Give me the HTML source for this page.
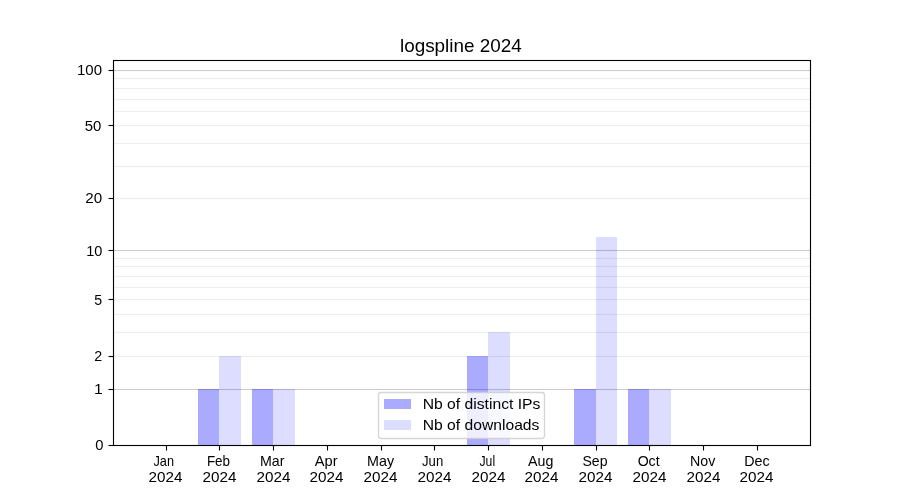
<!DOCTYPE html>
<html lang="en">
<head>
<meta charset="utf-8">
<title>logspline 2024</title>
<style>
html,body{margin:0;padding:0;background:#fff;}
body{width:900px;height:500px;overflow:hidden;font-family:"Liberation Sans",sans-serif;}
svg{display:block;will-change:transform;}
svg text{font-family:"Liberation Sans",sans-serif;fill:#000;}
.fr{stroke:#000;stroke-width:1.111;fill:none;}
.gM{fill:#ccc;}
.gm{fill:#eee;}
.ip{fill:rgba(0,0,255,0.3333);}
.dl{fill:rgba(0,0,255,0.1333);}
.bar{shape-rendering:crispEdges;}
</style>
</head>
<body>
<svg width="900" height="500" viewBox="0 0 900 500">
<rect x="0" y="0" width="900" height="500" fill="#fff"/>

<g id="grid">
<rect class="gm" x="113.5" y="77.9445" width="697.0" height="1.111"/>
<rect class="gm" x="113.5" y="87.9445" width="697.0" height="1.111"/>
<rect class="gm" x="113.5" y="98.9445" width="697.0" height="1.111"/>
<rect class="gm" x="113.5" y="110.9445" width="697.0" height="1.111"/>
<rect class="gm" x="113.5" y="124.9445" width="697.0" height="1.111"/>
<rect class="gm" x="113.5" y="142.9445" width="697.0" height="1.111"/>
<rect class="gm" x="113.5" y="165.9445" width="697.0" height="1.111"/>
<rect class="gm" x="113.5" y="197.9445" width="697.0" height="1.111"/>
<rect class="gm" x="113.5" y="257.9445" width="697.0" height="1.111"/>
<rect class="gm" x="113.5" y="265.9445" width="697.0" height="1.111"/>
<rect class="gm" x="113.5" y="275.9445" width="697.0" height="1.111"/>
<rect class="gm" x="113.5" y="286.9445" width="697.0" height="1.111"/>
<rect class="gm" x="113.5" y="298.9445" width="697.0" height="1.111"/>
<rect class="gm" x="113.5" y="313.9445" width="697.0" height="1.111"/>
<rect class="gm" x="113.5" y="331.9445" width="697.0" height="1.111"/>
<rect class="gm" x="113.5" y="355.9445" width="697.0" height="1.111"/>
<rect class="gM" x="113.5" y="69.9445" width="697.0" height="1.111"/>
<rect class="gM" x="113.5" y="249.9445" width="697.0" height="1.111"/>
<rect class="gM" x="113.5" y="388.9445" width="697.0" height="1.111"/>
</g>
<g id="bars" class="bar">
<rect class="ip" x="198" y="389" width="21" height="56"/>
<rect class="ip" x="252" y="389" width="21" height="56"/>
<rect class="ip" x="467" y="356" width="21" height="89"/>
<rect class="ip" x="574" y="389" width="22" height="56"/>
<rect class="ip" x="628" y="389" width="21" height="56"/>
<rect class="dl" x="219" y="356" width="22" height="89"/>
<rect class="dl" x="273" y="389" width="22" height="56"/>
<rect class="dl" x="488" y="332" width="22" height="113"/>
<rect class="dl" x="596" y="237" width="21" height="208"/>
<rect class="dl" x="649" y="389" width="22" height="56"/>
</g>
<g id="ticks" class="fr">
<line x1="166.5" x2="166.5" y1="445.5" y2="450.5"/>
<line x1="219.5" x2="219.5" y1="445.5" y2="450.5"/>
<line x1="273.5" x2="273.5" y1="445.5" y2="450.5"/>
<line x1="327.5" x2="327.5" y1="445.5" y2="450.5"/>
<line x1="381.5" x2="381.5" y1="445.5" y2="450.5"/>
<line x1="434.5" x2="434.5" y1="445.5" y2="450.5"/>
<line x1="488.5" x2="488.5" y1="445.5" y2="450.5"/>
<line x1="542.5" x2="542.5" y1="445.5" y2="450.5"/>
<line x1="596.5" x2="596.5" y1="445.5" y2="450.5"/>
<line x1="649.5" x2="649.5" y1="445.5" y2="450.5"/>
<line x1="703.5" x2="703.5" y1="445.5" y2="450.5"/>
<line x1="757.5" x2="757.5" y1="445.5" y2="450.5"/>
<line x1="108.5" x2="113.5" y1="70.5" y2="70.5"/>
<line x1="108.5" x2="113.5" y1="125.5" y2="125.5"/>
<line x1="108.5" x2="113.5" y1="198.5" y2="198.5"/>
<line x1="108.5" x2="113.5" y1="250.5" y2="250.5"/>
<line x1="108.5" x2="113.5" y1="299.5" y2="299.5"/>
<line x1="108.5" x2="113.5" y1="356.5" y2="356.5"/>
<line x1="108.5" x2="113.5" y1="389.5" y2="389.5"/>
<line x1="108.5" x2="113.5" y1="445.5" y2="445.5"/>
</g>
<rect class="fr" x="113.5" y="60.5" width="697.0" height="385.0"/>
<g id="legend">
<rect x="378.5" y="392.5" width="166" height="46" rx="2.78" ry="2.78" fill="rgba(255,255,255,0.8)" stroke="rgba(204,204,204,0.8)" stroke-width="1.389"/>
<rect class="ip bar" x="384" y="399" width="27" height="10"/>
<rect class="dl bar" x="384" y="420" width="27" height="10"/>
<text id="leg1" x="422.70" y="408.56" font-size="14.4" textLength="117.69" lengthAdjust="spacingAndGlyphs">Nb of distinct IPs</text>
<text id="leg2" x="422.75" y="429.50" font-size="14.4" textLength="116.64" lengthAdjust="spacingAndGlyphs">Nb of downloads</text>
</g>
<text id="title" x="399.94" y="52.00" font-size="18.4" textLength="121.77" lengthAdjust="spacingAndGlyphs">logspline 2024</text>
<g id="ylabels">
<text id="y100" x="76.97" y="74.80" font-size="14.4" textLength="25.01" lengthAdjust="spacingAndGlyphs">100</text>
<text id="y50" x="84.69" y="130.80" font-size="14.4" textLength="16.60" lengthAdjust="spacingAndGlyphs">50</text>
<text id="y20" x="85.27" y="202.80" font-size="14.4" textLength="16.90" lengthAdjust="spacingAndGlyphs">20</text>
<text id="y10" x="86.28" y="255.80" font-size="14.4" textLength="16.17" lengthAdjust="spacingAndGlyphs">10</text>
<text id="y5" x="94.13" y="304.80" font-size="14.4" textLength="7.88" lengthAdjust="spacingAndGlyphs">5</text>
<text id="y2" x="94.28" y="360.80" font-size="14.4" textLength="7.96" lengthAdjust="spacingAndGlyphs">2</text>
<text id="y1" x="94.03" y="393.80" font-size="14.4" textLength="8.76" lengthAdjust="spacingAndGlyphs">1</text>
<text id="y0" x="95.28" y="449.80" font-size="14.4" textLength="8.23" lengthAdjust="spacingAndGlyphs">0</text>
</g>
<g id="xlabels">
<text id="m_Jan" x="153.50" y="466.00" font-size="14.4" textLength="20.55" lengthAdjust="spacingAndGlyphs">Jan</text>
<text id="yr_Jan" x="148.44" y="482.00" font-size="14.4" textLength="33.93" lengthAdjust="spacingAndGlyphs">2024</text>
<text id="m_Feb" x="206.88" y="466.00" font-size="14.4" textLength="23.11" lengthAdjust="spacingAndGlyphs">Feb</text>
<text id="yr_Feb" x="202.44" y="482.00" font-size="14.4" textLength="33.93" lengthAdjust="spacingAndGlyphs">2024</text>
<text id="m_Mar" x="259.90" y="466.00" font-size="14.4" textLength="24.48" lengthAdjust="spacingAndGlyphs">Mar</text>
<text id="yr_Mar" x="256.44" y="482.00" font-size="14.4" textLength="33.93" lengthAdjust="spacingAndGlyphs">2024</text>
<text id="m_Apr" x="314.75" y="466.00" font-size="14.4" textLength="22.76" lengthAdjust="spacingAndGlyphs">Apr</text>
<text id="yr_Apr" x="309.44" y="482.00" font-size="14.4" textLength="33.93" lengthAdjust="spacingAndGlyphs">2024</text>
<text id="m_May" x="367.00" y="466.00" font-size="14.4" textLength="27.03" lengthAdjust="spacingAndGlyphs">May</text>
<text id="yr_May" x="363.44" y="482.00" font-size="14.4" textLength="33.93" lengthAdjust="spacingAndGlyphs">2024</text>
<text id="m_Jun" x="422.00" y="466.00" font-size="14.4" textLength="21.19" lengthAdjust="spacingAndGlyphs">Jun</text>
<text id="yr_Jun" x="417.44" y="482.00" font-size="14.4" textLength="33.93" lengthAdjust="spacingAndGlyphs">2024</text>
<text id="m_Jul" x="479.50" y="466.00" font-size="14.4" textLength="15.64" lengthAdjust="spacingAndGlyphs">Jul</text>
<text id="yr_Jul" x="471.44" y="482.00" font-size="14.4" textLength="33.93" lengthAdjust="spacingAndGlyphs">2024</text>
<text id="m_Aug" x="528.00" y="466.00" font-size="14.4" textLength="25.31" lengthAdjust="spacingAndGlyphs">Aug</text>
<text id="yr_Aug" x="524.44" y="482.00" font-size="14.4" textLength="33.93" lengthAdjust="spacingAndGlyphs">2024</text>
<text id="m_Sep" x="582.47" y="466.00" font-size="14.4" textLength="25.05" lengthAdjust="spacingAndGlyphs">Sep</text>
<text id="yr_Sep" x="578.44" y="482.00" font-size="14.4" textLength="33.93" lengthAdjust="spacingAndGlyphs">2024</text>
<text id="m_Oct" x="637.65" y="466.00" font-size="14.4" textLength="21.97" lengthAdjust="spacingAndGlyphs">Oct</text>
<text id="yr_Oct" x="632.44" y="482.00" font-size="14.4" textLength="33.93" lengthAdjust="spacingAndGlyphs">2024</text>
<text id="m_Nov" x="690.00" y="466.00" font-size="14.4" textLength="25.29" lengthAdjust="spacingAndGlyphs">Nov</text>
<text id="yr_Nov" x="686.44" y="482.00" font-size="14.4" textLength="33.93" lengthAdjust="spacingAndGlyphs">2024</text>
<text id="m_Dec" x="744.18" y="466.00" font-size="14.4" textLength="25.41" lengthAdjust="spacingAndGlyphs">Dec</text>
<text id="yr_Dec" x="739.44" y="482.00" font-size="14.4" textLength="33.93" lengthAdjust="spacingAndGlyphs">2024</text>
</g>
</svg>
</body>
</html>
